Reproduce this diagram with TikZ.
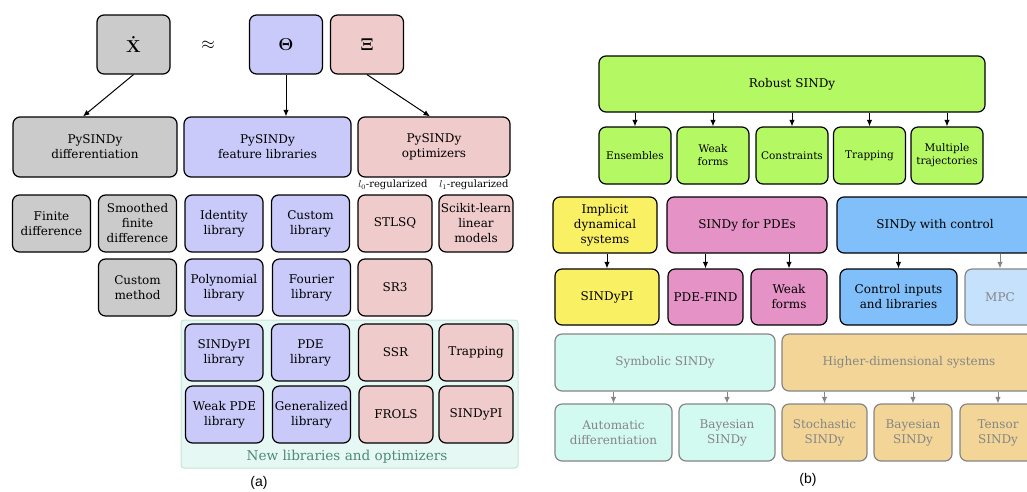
\documentclass[tikz,border=0pt]{standalone}
\usepackage{amsmath}
\usepackage{bm}
\usepackage[no-math]{fontspec}
\setmainfont{DejaVu Serif}
\newfontfamily\capfont{Liberation Sans}
\usetikzlibrary{arrows.meta}
\definecolor{grayfill}{HTML}{CBCBCB}
\definecolor{lavfill}{HTML}{C9C9FA}
\definecolor{pinkfill}{HTML}{F0CBCB}
\definecolor{limefill}{HTML}{B4F863}
\definecolor{yellowfill}{HTML}{FAF063}
\definecolor{magfill}{HTML}{E592C6}
\definecolor{bluefill}{HTML}{80BFF9}
\definecolor{mpcfill}{HTML}{C5E1FC}
\definecolor{mintfill}{HTML}{D3FAF1}
\definecolor{tanfill}{HTML}{F3D697}
\definecolor{regionfill}{HTML}{E6F8F3}
\definecolor{regionline}{HTML}{C6E2D9}
\definecolor{regiontext}{HTML}{4D8B7B}
\definecolor{fadegray}{HTML}{858585}

\begin{document}
\begin{tikzpicture}[x=1pt,y=-1pt,
	every node/.style={font=\fontsize{12}{15}\selectfont, align=center, inner sep=1pt},
	box/.style={draw=black, line width=1.2pt, rounded corners=7pt},
	symbox/.style={box, minimum width=73pt, minimum height=59pt, font=\fontsize{17}{19}\selectfont},
	bigbox/.style={box, minimum height=60pt},
	cell/.style={box, minimum width=78pt, minimum height=57pt},
	optcell/.style={box, minimum width=74pt, minimum height=57pt},
	sub/.style={box, minimum height=56pt},
	fade/.style={draw=fadegray, text=fadegray},
	arr/.style={-{Latex[length=6.5pt,width=5.5pt]}, line width=1pt},
	farr/.style={arr, draw=fadegray, fill=fadegray}]
\useasboundingbox (0,0) rectangle (1027,491);
\clip (0,0) rectangle (1027,491);

\filldraw[fill=regionfill, draw=regionline, line width=1pt, rounded corners=3pt] (181,320) rectangle (518,468);
\node[text=regiontext, font=\fontsize{13.6}{15}\selectfont] (newlib) at (347,457) {New libraries and optimizers};

\node[symbox, fill=grayfill] (xdot) at (133.5,44.5) {$\bm{\dot{\mathbf{X}}}$};
\node[font=\fontsize{17}{19}\selectfont] (approx) at (208,45) {$\approx$};
\node[symbox, fill=lavfill] (theta) at (286,44.5) {$\mathbf{\Theta}$};
\node[symbox, fill=pinkfill] (xi) at (367,44.5) {$\mathbf{\Xi}$};

\node[bigbox, fill=grayfill, minimum width=164pt] (diff) at (95,147) {PySINDy\\differentiation};
\node[bigbox, fill=lavfill, minimum width=167pt] (feat) at (267.5,147) {PySINDy\\feature libraries};
\node[bigbox, fill=pinkfill, minimum width=152pt] (opt) at (434,147) {PySINDy\\optimizers};

\draw[arr] (xdot.south) -- ([xshift=-12pt]diff.north);
\draw[arr] (theta.south) -- (theta.south |- feat.north);
\draw[arr] (xi.south) -- ([xshift=-4pt]opt.north);

\node[font=\fontsize{10}{12}\selectfont] (lzero) at (393,185) {$l_0$-regularized};
\node[font=\fontsize{10}{12}\selectfont] (lone) at (474,185) {$l_1$-regularized};

\node[cell, fill=grayfill] (findiff) at (51.5,223.5) {Finite\\difference};
\node[cell, fill=grayfill] (smooth) at (137.5,223.5) {Smoothed\\finite\\difference};
\node[cell, fill=grayfill] (custmeth) at (137.5,287.5) {Custom\\method};

\node[cell, fill=lavfill] (ident) at (224,223.5) {Identity\\library};
\node[cell, fill=lavfill] (custlib) at (310.5,223.5) {Custom\\library};
\node[cell, fill=lavfill] (poly) at (224,287.5) {Polynomial\\library};
\node[cell, fill=lavfill] (fourier) at (311.5,287.5) {Fourier\\library};
\node[cell, fill=lavfill] (pilib) at (224,352.5) {SINDyPI\\library};
\node[cell, fill=lavfill] (pdelib) at (310.5,352.5) {PDE\\library};
\node[cell, fill=lavfill] (weaklib) at (224.5,414.5) {Weak PDE\\library};
\node[cell, fill=lavfill] (genlib) at (311.5,414.5) {Generalized\\library};

\node[optcell, fill=pinkfill] (stlsq) at (395,223.5) {STLSQ};
\node[optcell, fill=pinkfill] (sklearn) at (476,223.5) {Scikit-learn\\linear\\models};
\node[optcell, fill=pinkfill] (srthree) at (395,287.5) {SR3};
\node[optcell, fill=pinkfill] (ssr) at (395.5,352.5) {SSR};
\node[optcell, fill=pinkfill] (trapopt) at (476,352.5) {Trapping};
\node[optcell, fill=pinkfill] (frols) at (396,414.5) {FROLS};
\node[optcell, fill=pinkfill] (piopt) at (476,414.5) {SINDyPI};

\node[font=\capfont\fontsize{14}{16}\selectfont] (capa) at (259,483) {(a)};

\node[box, fill=limefill, minimum width=386pt, minimum height=56pt] (robust) at (792,84) {Robust SINDy};
\foreach \nm/\cx/\txt in {ens/635/Ensembles, weak/713/Weak\\forms, cons/792/Constraints, trap/869.5/Trapping, multi/947/Multiple\\trajectories}
	\node[box, fill=limefill, minimum width=72pt, minimum height=57pt, font=\fontsize{10.5}{13}\selectfont] (\nm) at (\cx,155.5) {\txt};
\foreach \nm in {ens,weak,cons,trap,multi}
	\draw[arr] (robust.south -| \nm.north) -- (\nm.north);

\node[sub, fill=yellowfill, minimum width=104pt] (implicit) at (605,225) {Implicit\\dynamical\\systems};
\node[sub, fill=magfill, minimum width=160pt] (pdes) at (747,225) {SINDy for PDEs};
\node[sub, fill=bluefill, minimum width=196pt] (control) at (935,225) {SINDy with control};

\node[sub, fill=yellowfill, minimum width=104pt] (sindypi) at (607,297) {SINDyPI};
\node[sub, fill=magfill, minimum width=75pt] (pdefind) at (705.5,297) {PDE-FIND};
\node[sub, fill=magfill, minimum width=76pt] (weakpde) at (789,297) {Weak\\forms};
\node[sub, fill=bluefill, minimum width=117pt] (ctrlin) at (898.5,297) {Control inputs\\and libraries};
\node[sub, fade, fill=mpcfill, minimum width=70pt] (mpc) at (1000,297) {MPC};

\draw[arr] (implicit.south -| sindypi.north) -- (sindypi.north);
\draw[arr] (pdes.south -| pdefind.north) -- (pdefind.north);
\draw[arr] (pdes.south -| weakpde.north) -- (weakpde.north);
\draw[arr] (control.south -| ctrlin.north) -- (ctrlin.north);
\draw[farr] (control.south -| mpc.north) -- (mpc.north);

\node[box, fade, fill=mintfill, minimum width=220pt, minimum height=57pt] (symbolic) at (665,362.5) {Symbolic SINDy};
\node[box, fade, fill=tanfill, minimum width=254pt, minimum height=57pt] (higher) at (909,362.5) {Higher-dimensional systems};

\node[box, fade, fill=mintfill, minimum width=117pt, minimum height=57pt] (autodiff) at (613.5,432.5) {Automatic\\differentiation};
\node[box, fade, fill=mintfill, minimum width=96pt, minimum height=57pt] (bayesa) at (727,432.5) {Bayesian\\SINDy};
\node[box, fade, fill=tanfill, minimum width=85pt, minimum height=57pt] (stoch) at (824.5,432.5) {Stochastic\\SINDy};
\node[box, fade, fill=tanfill, minimum width=78pt, minimum height=57pt] (bayesb) at (913,432.5) {Bayesian\\SINDy};
\node[box, fade, fill=tanfill, minimum width=76pt, minimum height=57pt] (tensor) at (998,432.5) {Tensor\\SINDy};

\draw[farr] (symbolic.south -| autodiff.north) -- (autodiff.north);
\draw[farr] (symbolic.south -| bayesa.north) -- (bayesa.north);
\foreach \nm in {stoch,bayesb,tensor}
	\draw[farr] (higher.south -| \nm.north) -- (\nm.north);

\node[font=\capfont\fontsize{14}{16}\selectfont] (capb) at (808,480) {(b)};
\end{tikzpicture}
\end{document}
